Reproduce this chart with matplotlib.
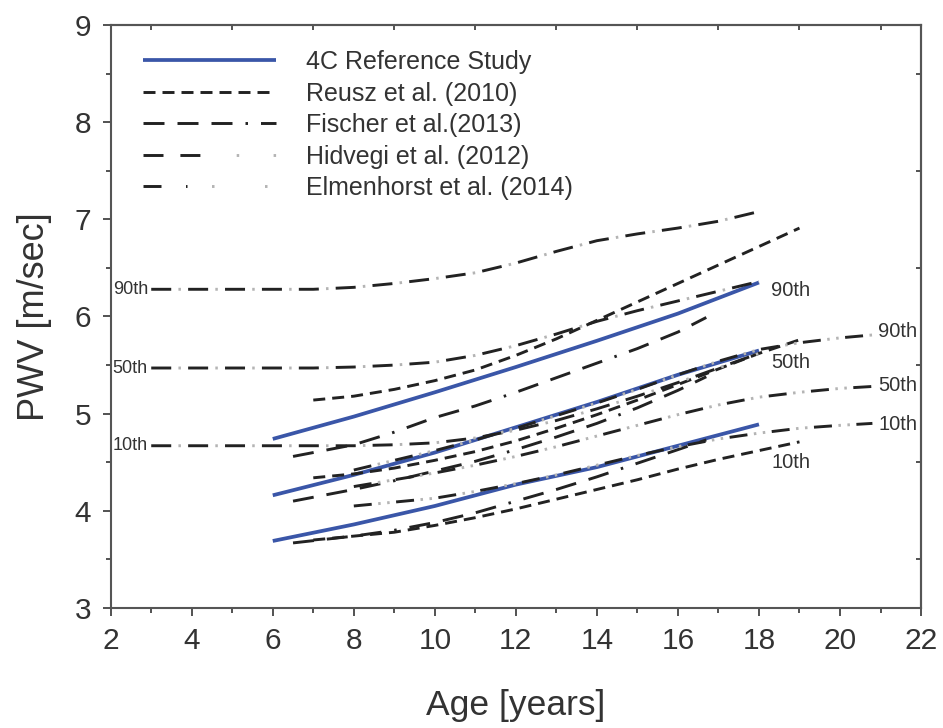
import numpy as np
import matplotlib
matplotlib.use("Agg")
import matplotlib.pyplot as plt
from matplotlib.legend_handler import HandlerTuple

plt.rcParams['font.family'] = ['Liberation Sans', 'DejaVu Sans']
plt.rcParams['lines.scale_dashes'] = False

# --- 4C reference percentiles (ages 6-18) ---
ref_age = [6, 8, 10, 12, 14, 16, 18]
ref_p90 = [4.74, 4.97, 5.22, 5.48, 5.75, 6.03, 6.35]
ref_p50 = [4.16, 4.37, 4.60, 4.86, 5.12, 5.40, 5.65]
ref_p10 = [3.69, 3.86, 4.05, 4.27, 4.45, 4.67, 4.89]

# --- Reusz et al. (2010) ---
reusz_age = [7, 8, 9, 10, 11, 12, 13, 14, 15, 16, 17, 18, 19]
reusz_p90 = [5.14, 5.18, 5.25, 5.34, 5.45, 5.60, 5.77, 5.96, 6.15, 6.34, 6.53, 6.72, 6.91]
reusz_p50 = [4.34, 4.38, 4.44, 4.52, 4.61, 4.72, 4.85, 4.99, 5.14, 5.30, 5.46, 5.62, 5.76]
reusz_p10 = [3.70, 3.74, 3.78, 3.85, 3.93, 4.02, 4.12, 4.22, 4.32, 4.43, 4.53, 4.62, 4.71]

# --- Fischer et al. (2013) ---
fischer_age = [6.5, 8, 9, 10, 11, 12, 13, 14, 15, 16, 16.7]
fischer_p90 = [4.56, 4.68, 4.81, 4.96, 5.08, 5.22, 5.37, 5.52, 5.67, 5.84, 5.99]
fischer_p50 = [4.10, 4.22, 4.31, 4.41, 4.51, 4.63, 4.76, 4.90, 5.06, 5.24, 5.38]
fischer_p10 = [3.67, 3.74, 3.80, 3.88, 3.98, 4.10, 4.22, 4.35, 4.49, 4.63, 4.73]

# --- Hidvegi et al. (2012) ---
hid_age = [3, 4, 5, 6, 7, 8, 9, 10, 11, 12, 13, 14, 15, 16, 17, 18]
hid_p90 = [6.28, 6.28, 6.28, 6.28, 6.28, 6.30, 6.34, 6.39, 6.45, 6.55, 6.67, 6.78, 6.85, 6.91, 6.98, 7.08]
hid_p50 = [5.47, 5.47, 5.47, 5.47, 5.47, 5.48, 5.50, 5.53, 5.60, 5.70, 5.82, 5.95, 6.06, 6.16, 6.26, 6.36]
hid_p10 = [4.67, 4.67, 4.67, 4.67, 4.67, 4.67, 4.68, 4.70, 4.75, 4.83, 4.93, 5.05, 5.18, 5.32, 5.47, 5.62]

# --- Elmenhorst et al. (2014) ---
elm_age = [8, 9, 10, 11, 12, 13, 14, 15, 16, 17, 18, 19, 20, 20.8]
elm_p90 = [4.42, 4.52, 4.62, 4.73, 4.85, 4.98, 5.11, 5.25, 5.40, 5.54, 5.66, 5.73, 5.78, 5.81]
elm_p50 = [4.25, 4.32, 4.39, 4.47, 4.56, 4.66, 4.77, 4.88, 4.99, 5.09, 5.17, 5.22, 5.26, 5.28]
elm_p10 = [4.05, 4.09, 4.13, 4.20, 4.28, 4.37, 4.47, 4.57, 4.66, 4.74, 4.80, 4.85, 4.88, 4.90]

pct_labels = ['90th', '50th', '10th']

BLUE = '#3a56a8'
DARK = '#222222'
DOT = '#b4b4b4'
PX = 0.72  # pixels -> points at 100 dpi
LW = 2.1

fig = plt.figure(figsize=(9.43, 7.28), dpi=100)
ax = fig.add_axes([0.1174, 0.1648, 0.8593, 0.8009])


def dashed(x, y, style):
    return ax.plot(x, y, color=DARK, lw=LW, linestyle=style, dash_capstyle='butt')[0]


def dash_dots(x, y, dash, gap, ndots):
    """Dark dash followed by ndots pale dots, repeating."""
    dot = 2.5
    period = dash + (ndots + 1) * gap + ndots * dot
    dark = ax.plot(x, y, color=DARK, lw=LW, dash_capstyle='butt',
                   linestyle=(0, (dash * PX, (period - dash) * PX)))[0]
    lights = []
    for k in range(ndots):
        start = dash + (k + 1) * gap + k * dot
        lights.append(ax.plot(x, y, color=DOT, lw=LW, dash_capstyle='butt',
                              linestyle=((period - start) * PX, (dot * PX, (period - dot) * PX)))[0])
    return (dark, *lights)


# 4C reference study
for y in (ref_p90, ref_p50, ref_p10):
    h_ref = ax.plot(ref_age, y, color=BLUE, lw=2.7, solid_capstyle='butt')[0]

# Reusz: short dashes
reusz_dash = (0, (12 * PX, 7 * PX))
for y in (reusz_p90, reusz_p50, reusz_p10):
    h_reusz = dashed(reusz_age, y, reusz_dash)

# Fischer: three long dashes then a dot
fischer_dash = (0, (21 * PX, 13 * PX, 21 * PX, 13 * PX, 21 * PX, 13 * PX, 2.5 * PX, 13 * PX))
for y in (fischer_p90, fischer_p50, fischer_p10):
    h_fischer = dashed(fischer_age, y, fischer_dash)

# Hidvegi: dash-dot
for y in (hid_p90, hid_p50, hid_p10):
    h_hid = dash_dots(hid_age, y, 20, 7.2, 1)

# Elmenhorst: dash-dot-dot
for y in (elm_p90, elm_p50, elm_p10):
    h_elm = dash_dots(elm_age, y, 18, 6.5, 2)

# percentile labels
lab_kw = dict(color='#333333', va='center')
for lab, v in zip(pct_labels, (hid_p90[0], hid_p50[0], hid_p10[0])):
    ax.text(2.05, v, lab, ha='left', fontsize=13, **lab_kw)
for lab, v in zip(pct_labels, (6.27, 5.53, 4.50)):
    ax.text(18.3, v, lab, ha='left', fontsize=14.5, **lab_kw)
for lab, v in zip(pct_labels, (elm_p90[-1] + 0.04, elm_p50[-1] + 0.01, elm_p10[-1] - 0.01)):
    ax.text(20.95, v, lab, ha='left', fontsize=14.5, **lab_kw)

ax.legend([h_ref, h_reusz, h_fischer, h_hid, h_elm],
          ['4C Reference Study', 'Reusz et al. (2010)', 'Fischer et al.(2013)',
           'Hidvegi et al. (2012)', 'Elmenhorst et al. (2014)'],
          handler_map={tuple: HandlerTuple(ndivide=None, pad=0)},
          loc='upper left', bbox_to_anchor=(0.04, 0.957), frameon=False,
          fontsize=18, handlelength=5.3, handletextpad=1.2, labelspacing=0.3,
          borderpad=0, borderaxespad=0, labelcolor='#333333')

ax.set_xlim(2, 22)
ax.set_ylim(3, 9)
ax.set_xticks(np.arange(2, 23, 2))
ax.set_xticks(np.arange(3, 22, 2), minor=True)
ax.set_yticks(np.arange(3, 10, 1))
ax.set_yticks(np.arange(3.5, 9, 1), minor=True)
ax.tick_params(which='major', direction='out', length=6, width=1.3, colors='#444444',
               labelsize=21.5, labelcolor='#333333', pad=8)
ax.tick_params(which='minor', direction='out', length=3.5, width=1.3, colors='#444444')

top = ax.secondary_xaxis('top')
top.set_xticks(np.arange(3, 22, 2))
top.tick_params(direction='in', length=3.5, width=1.3, colors='#444444', labeltop=False)
right = ax.secondary_yaxis('right')
right.set_yticks(np.arange(3.5, 9, 1))
right.tick_params(direction='in', length=3.5, width=1.3, colors='#444444', labelright=False)

for sp in list(ax.spines.values()) + [top.spines['top'], right.spines['right']]:
    sp.set_color('#555555')
    sp.set_linewidth(1.5)

ax.set_xlabel('Age [years]', fontsize=25.5, color='#333333', labelpad=24)
ax.set_ylabel('PWV [m/sec]', fontsize=26, color='#333333', labelpad=16)

fig.savefig('out.png', dpi=100)
